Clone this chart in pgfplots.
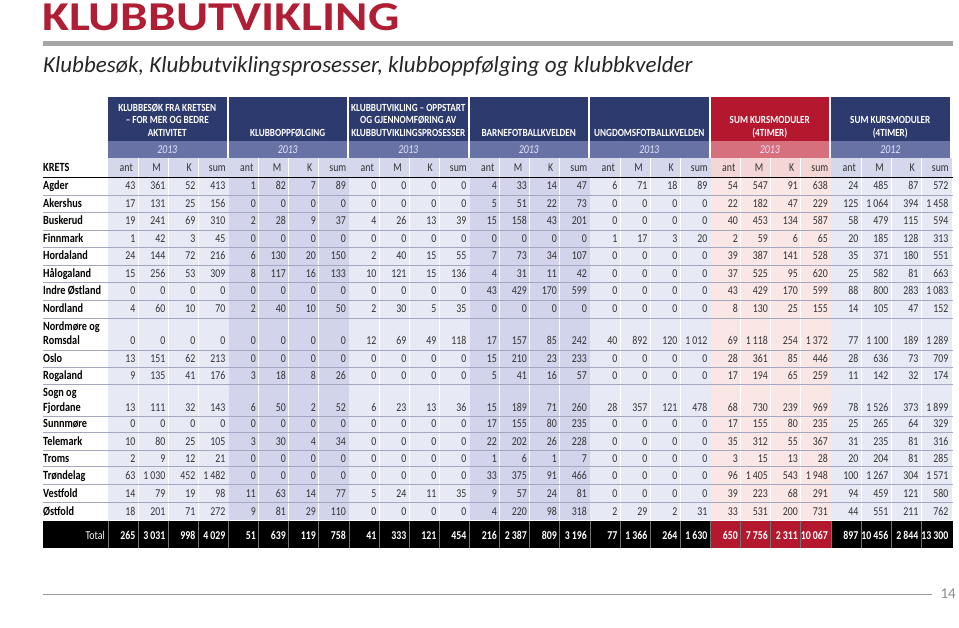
\documentclass[border=0pt]{standalone}
\usepackage{pgfplots}
\pgfplotsset{compat=1.18}
\usepackage{pgfplotstable}
\usepackage{fontspec}
\setmainfont{Carlito}[Numbers=Lining]
\newfontfamily\cnd[FakeStretch=0.82,Numbers=Lining]{Carlito}
\newfontfamily\hdf[FakeStretch=0.84]{Carlito}
\newfontfamily\ttl[FakeStretch=1.2]{Carlito}
\definecolor{navy}{HTML}{2D3A6D}
\definecolor{yearblue}{HTML}{6872A4}
\definecolor{colhead}{HTML}{D5D8EC}
\definecolor{lightbg}{HTML}{E7E9F5}
\definecolor{medbg}{HTML}{D1D4EA}
\definecolor{redbox}{HTML}{B3182F}
\definecolor{redyear}{HTML}{D7707D}
\definecolor{pinkhead}{HTML}{F5D6D6}
\definecolor{pinkbg}{HTML}{FAE6E5}
\definecolor{titlered}{HTML}{B01E35}
\definecolor{rowline}{HTML}{A3A7BF}
\definecolor{numgrey}{HTML}{333333}

\pgfplotstableread{
y c0 c1 c2 c3 c4 c5 c6 c7 c8 c9 c10 c11 c12 c13 c14 c15 c16 c17 c18 c19 c20 c21 c22 c23 c24 c25 c26 c27
186   43 361 52 413   1 82 7 89   0 0 0 0   4 33 14 47   6 71 18 89   54 547 91 638   24 485 87 572
203.5 17 131 25 156   0 0 0 0   0 0 0 0   5 51 22 73   0 0 0 0   22 182 47 229   125 1064 394 1458
221   19 241 69 310   2 28 9 37   4 26 13 39   15 158 43 201   0 0 0 0   40 453 134 587   58 479 115 594
238.5 1 42 3 45   0 0 0 0   0 0 0 0   0 0 0 0   1 17 3 20   2 59 6 65   20 185 128 313
256   24 144 72 216   6 130 20 150   2 40 15 55   7 73 34 107   0 0 0 0   39 387 141 528   35 371 180 551
273.5 15 256 53 309   8 117 16 133   10 121 15 136   4 31 11 42   0 0 0 0   37 525 95 620   25 582 81 663
291   0 0 0 0   0 0 0 0   0 0 0 0   43 429 170 599   0 0 0 0   43 429 170 599   88 800 283 1083
309   4 60 10 70   2 40 10 50   2 30 5 35   0 0 0 0   0 0 0 0   8 130 25 155   14 105 47 152
341   0 0 0 0   0 0 0 0   12 69 49 118   17 157 85 242   40 892 120 1012   69 1118 254 1372   77 1100 189 1289
358.5 13 151 62 213   0 0 0 0   0 0 0 0   15 210 23 233   0 0 0 0   28 361 85 446   28 636 73 709
375.5 9 135 41 176   3 18 8 26   0 0 0 0   5 41 16 57   0 0 0 0   17 194 65 259   11 142 32 174
407   13 111 32 143   6 50 2 52   6 23 13 36   15 189 71 260   28 357 121 478   68 730 239 969   78 1526 373 1899
424   0 0 0 0   0 0 0 0   0 0 0 0   17 155 80 235   0 0 0 0   17 155 80 235   25 265 64 329
441   10 80 25 105   3 30 4 34   0 0 0 0   22 202 26 228   0 0 0 0   35 312 55 367   31 235 81 316
458   2 9 12 21   0 0 0 0   0 0 0 0   1 6 1 7   0 0 0 0   3 15 13 28   20 204 81 285
475   63 1030 452 1482   0 0 0 0   0 0 0 0   33 375 91 466   0 0 0 0   96 1405 543 1948   100 1267 304 1571
493   14 79 19 98   11 63 14 77   5 24 11 35   9 57 24 81   0 0 0 0   39 223 68 291   94 459 121 580
511   18 201 71 272   9 81 29 110   0 0 0 0   4 220 98 318   2 29 2 31   33 531 200 731   44 551 211 762
}\krets

\pgfplotstableread{
y c0 c1 c2 c3 c4 c5 c6 c7 c8 c9 c10 c11 c12 c13 c14 c15 c16 c17 c18 c19 c20 c21 c22 c23 c24 c25 c26 c27
535 265 3031 998 4029   51 639 119 758   41 333 121 454   216 2387 809 3196   77 1366 264 1630   650 7756 2311 10067   897 10456 2844 13300
}\total

\newcommand{\hd}[3]{\node[anchor=base,inner sep=0pt,text=white,font=\hdf\bfseries\fontsize{10.9}{12}\selectfont] at (#1,#2) {#3};}
\newcommand{\rn}[2]{\node[anchor=base west,inner sep=0pt,text=black,font=\cnd\bfseries\fontsize{12.5}{13}\selectfont] at (43,#1) {#2};}

\begin{document}
\begin{tikzpicture}
\begin{axis}[
  width=959pt, height=628pt, scale only axis,
  xmin=0, xmax=959, ymin=0, ymax=628, y dir=reverse,
  hide axis, clip=false,
  /pgf/number format/.cd, fixed, precision=0, 1000 sep={\,}, assume math mode=true]
\path (0,0) rectangle (959,628);
% title
\node[anchor=base west,inner sep=0pt,text=titlered,font=\ttl\bfseries\fontsize{41}{41}\selectfont] at (42,31) {KLUBBUTVIKLING};
\fill[black!35] (43,41) rectangle (953,46);
\node[anchor=base west,inner sep=0pt,text=black!85,font=\itshape\fontsize{23}{23}\selectfont] at (43,73) {Klubbesøk, Klubbutviklingsprosesser, klubboppfølging og klubbkvelder};
% header boxes
\pgfplotsinvokeforeach{0,1,2,3,4,6}{
  \fill[navy] ({108+120.5*#1},97) rectangle ({226.5+120.5*#1},141);
  \fill[yearblue] ({108+120.5*#1},141) rectangle ({226.5+120.5*#1},158);
  \fill[colhead] ({108+120.5*#1},158) rectangle ({228.5+120.5*#1},177);
}
\fill[redbox] (710.5,97) rectangle (829,141);
\fill[redyear] (710.5,141) rectangle (829,158);
\fill[pinkhead] (710.5,158) rectangle (831,177);
% data backgrounds
\pgfplotsinvokeforeach{0,2,4,6}{\fill[lightbg] ({108+120.5*#1},177) rectangle ({228.5+120.5*#1},520);}
\pgfplotsinvokeforeach{1,3}{\fill[medbg] ({108+120.5*#1},177) rectangle ({228.5+120.5*#1},520);}
\fill[pinkbg] (710.5,177) rectangle (831,520);
\pgfplotsinvokeforeach{0,...,6}{
  \draw[white,line width=0.8pt] ({138+120.5*#1},158) -- ({138+120.5*#1},520);
  \draw[white,line width=0.8pt] ({168+120.5*#1},158) -- ({168+120.5*#1},520);
  \draw[white,line width=0.8pt] ({198+120.5*#1},158) -- ({198+120.5*#1},520);
}
% row lines
\pgfplotsinvokeforeach{195,212,230,247,265,282,300,318,350,367,384,416,432,450,466,484,502}{
  \draw[rowline,line width=0.8pt] (43,#1) -- (953,#1);
}
\draw[black,line width=1.6pt] (43,177.5) -- (953,177.5);
% total band
\fill[black] (43,521) rectangle (953,548);
\fill[redbox] (710.5,521) rectangle (831,548);
\pgfplotsinvokeforeach{0,...,6}{
  \draw[black!55,line width=0.7pt] ({108+120.5*#1},521) -- ({108+120.5*#1},548);
  \draw[black!55,line width=0.7pt] ({138+120.5*#1},521) -- ({138+120.5*#1},548);
  \draw[black!55,line width=0.7pt] ({168+120.5*#1},521) -- ({168+120.5*#1},548);
  \draw[black!55,line width=0.7pt] ({198+120.5*#1},521) -- ({198+120.5*#1},548);
}
% header texts
\hd{167.25}{111.5}{KLUBBESØK FRA KRETSEN}
\hd{167.25}{124}{– FOR MER OG BEDRE}
\hd{167.25}{136.5}{AKTIVITET}
\hd{287.75}{136.5}{KLUBBOPPFØLGING}
\hd{408.25}{111.5}{KLUBBUTVIKLING – OPPSTART}
\hd{408.25}{124}{OG GJENNOMFØRING AV}
\hd{408.25}{136.5}{KLUBBUTVIKLINGSPROSESSER}
\hd{528.75}{136.5}{BARNEFOTBALLKVELDEN}
\hd{649.25}{136.5}{UNGDOMSFOTBALLKVELDEN}
\hd{769.75}{124}{SUM KURSMODULER}
\hd{769.75}{136.5}{(4TIMER)}
\hd{890.25}{124}{SUM KURSMODULER}
\hd{890.25}{136.5}{(4TIMER)}
\pgfplotsinvokeforeach{0,...,5}{
  \node[anchor=base,inner sep=0pt,text=white!90!blue,font=\cnd\itshape\fontsize{12}{12}\selectfont] at ({167.25+120.5*#1},154) {2013};
}
\node[anchor=base,inner sep=0pt,text=white!90!blue,font=\cnd\itshape\fontsize{12}{12}\selectfont] at (890.25,154) {2012};
% column headers
\node[anchor=base west,inner sep=0pt,font=\cnd\bfseries\fontsize{12.5}{13}\selectfont] at (43,172) {KRETS};
\pgfplotsinvokeforeach{0,...,6}{
  \node[anchor=base east,inner sep=0pt,text=numgrey,font=\cnd\fontsize{12}{12}\selectfont] at ({133+120.5*#1},172) {ant};
  \node[anchor=base east,inner sep=0pt,text=numgrey,font=\cnd\fontsize{12}{12}\selectfont] at ({161+120.5*#1},172) {M};
  \node[anchor=base east,inner sep=0pt,text=numgrey,font=\cnd\fontsize{12}{12}\selectfont] at ({192+120.5*#1},172) {K};
  \node[anchor=base east,inner sep=0pt,text=numgrey,font=\cnd\fontsize{12}{12}\selectfont] at ({226+120.5*#1},172) {sum};
}
% row names
\rn{190}{Agder}
\rn{207.5}{Akershus}
\rn{225}{Buskerud}
\rn{242.5}{Finnmark}
\rn{260}{Hordaland}
\rn{277.5}{Hålogaland}
\rn{295}{Indre Østland}
\rn{313}{Nordland}
\rn{331}{Nordmøre og}
\rn{345}{Romsdal}
\rn{362.5}{Oslo}
\rn{379.5}{Rogaland}
\rn{396}{Sogn og}
\rn{411}{Fjordane}
\rn{428}{Sunnmøre}
\rn{445}{Telemark}
\rn{462}{Troms}
\rn{479}{Trøndelag}
\rn{497}{Vestfold}
\rn{515}{Østfold}
\node[anchor=base east,inner sep=0pt,text=white,font=\cnd\fontsize{12}{12}\selectfont] at (105,539) {Total};
% numbers
\pgfplotsinvokeforeach{0,...,27}{
  \addplot[draw=none, mark=none, point meta=explicit, nodes near coords,
    every node near coord/.append style={anchor=base east, inner sep=0pt, text=numgrey, font=\cnd\fontsize{12}{12}\selectfont}]
    table[x expr={108+120.5*floor((#1+0.5)/4)+29.5+30*mod(#1,4)-2}, y expr={\thisrow{y}+4}, meta=c#1] {\krets};
  \addplot[draw=none, mark=none, point meta=explicit, nodes near coords,
    every node near coord/.append style={anchor=base east, inner sep=0pt, text=white, font=\cnd\bfseries\fontsize{12}{12}\selectfont}]
    table[x expr={108+120.5*floor((#1+0.5)/4)+29.5+30*mod(#1,4)-2}, y expr={\thisrow{y}+4}, meta=c#1] {\total};
}
% page number
\draw[black!40,line width=0.8pt] (43,594) -- (932,594);
\node[anchor=east,inner sep=0pt,text=black!45,font=\fontsize{15}{15}\selectfont] at (956,594) {14};
\end{axis}
\end{tikzpicture}
\end{document}
